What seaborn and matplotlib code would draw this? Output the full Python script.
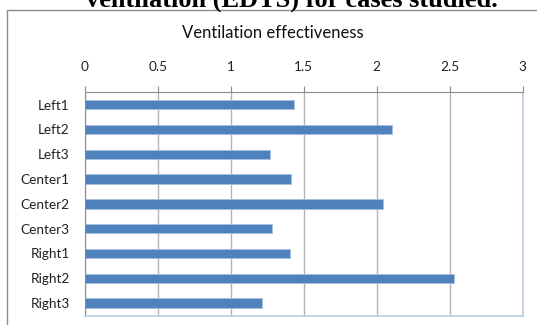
import matplotlib
matplotlib.use("Agg")
import matplotlib.pyplot as plt
import seaborn as sns
import pandas as pd
from matplotlib.patches import Rectangle

categories = ["Left1", "Left2", "Left3", "Center1", "Center2", "Center3",
              "Right1", "Right2", "Right3"]
values = [1.43, 2.105, 1.27, 1.41, 2.04, 1.28, 1.405, 2.53, 1.21]
x_ticks = [0, 0.5, 1, 1.5, 2, 2.5, 3]
x_tick_labels = ["0", "0.5", "1", "1.5", "2", "2.5", "3"]
title = "Ventilation effectiveness"
caption = "ventilation (EDTS) for cases studied."

sns.set_theme(style="white")
plt.rcParams['font.family'] = ['Lato', 'DejaVu Sans']

df = pd.DataFrame({"case": categories, "value": values})

fig = plt.figure(figsize=(5.37, 3.25), dpi=100)
ax = fig.add_axes([85/537, 1 - 315.5/325, (522.7-85)/537, (315.5-92.3)/325])

sns.barplot(data=df, x="value", y="case", orient="h", color="#4F81BD",
            width=0.38, saturation=1, ax=ax, edgecolor="#a8c0e0", linewidth=0.6)

ax.set_xlim(0, 3)
ax.set_xticks(x_ticks)
ax.set_xticklabels(x_tick_labels, fontsize=9.8, color="#222222")
ax.xaxis.tick_top()
ax.tick_params(axis="x", which="both", top=True, bottom=False, length=4,
               width=0.8, color="#8c8c8c", pad=10)
ax.tick_params(axis="y", left=False, length=0, pad=11, labelsize=9.8,
               labelcolor="#222222")
ax.set_xlabel("")
ax.set_ylabel("")
ax.set_axisbelow(True)
ax.grid(axis="x", color="#b4b4b4", linewidth=1)
ax.grid(axis="y", visible=False)
for s in ["top", "left"]:
    ax.spines[s].set_color("#8c8c8c")
    ax.spines[s].set_linewidth(0.8)
for s in ["right", "bottom"]:
    ax.spines[s].set_color("#b9cde5")
    ax.spines[s].set_linewidth(1.2)

fig.text(273/537, 1 - 33/325, title, ha="center", va="center",
         fontsize=12, color="#111111")

# outer chart frame (extends off the image right/bottom)
fig.patches.append(Rectangle((6.5/537, -0.2), 1.2, 1 - 9.5/325 + 0.2,
                             transform=fig.transFigure, fill=False,
                             edgecolor="#8c8c8c", linewidth=1.0))

fig.text(292/537, 1 - 6.5/325, caption, ha="center", va="baseline",
         fontsize=19, fontweight="bold", family=["Liberation Serif"],
         color="#000000")

fig.savefig("out.png", dpi=100)
